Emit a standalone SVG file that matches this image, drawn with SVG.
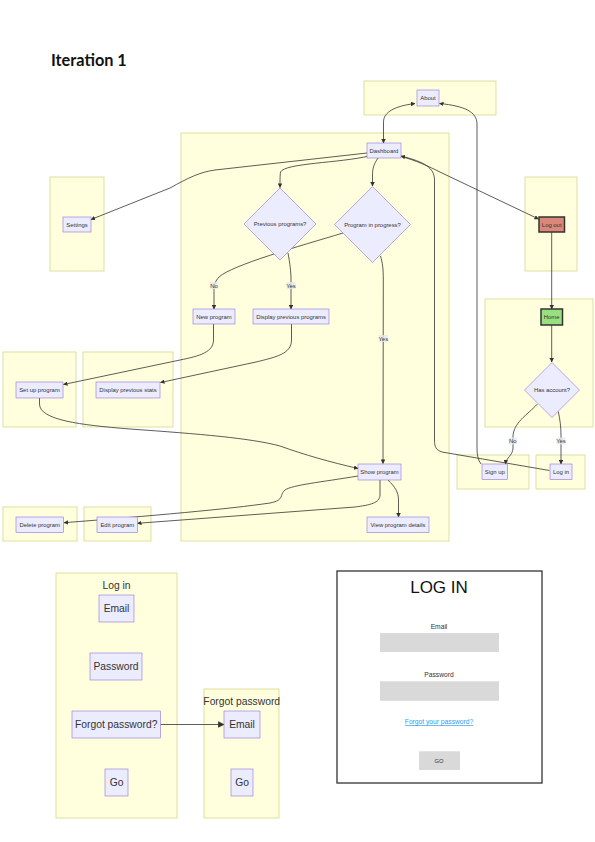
<svg xmlns="http://www.w3.org/2000/svg" width="595" height="842" viewBox="0 0 595 842">
<defs>
<style>
.cl{fill:#ffffde;stroke:#d6d68e;stroke-width:0.8}
.nd{fill:#ECECFF;stroke:#9370DB;stroke-width:0.6}
.t{font-family:"Liberation Sans",Arial,sans-serif;font-size:5.9px;fill:#333;text-anchor:middle}
.T{font-family:"Liberation Sans",Arial,sans-serif;font-size:10.3px;fill:#333;text-anchor:middle}
.e{fill:none;stroke:#333;stroke-width:0.8}
.lb{fill:#e8e8e8;opacity:0.8}
.fld{fill:#d9d9d9}
.m{font-family:"Liberation Sans",Arial,sans-serif;font-size:6.7px;fill:#333;text-anchor:middle}
</style>
<marker id="ah" viewBox="0 0 10 10" refX="9" refY="5" markerWidth="4.5" markerHeight="4.5" markerUnits="userSpaceOnUse" orient="auto-start-reverse"><path d="M0,0 L10,5 L0,10 z" fill="#333"/></marker>
<marker id="ah2" viewBox="0 0 10 10" refX="9" refY="5" markerWidth="6.5" markerHeight="6.5" markerUnits="userSpaceOnUse" orient="auto"><path d="M0,0 L10,5 L0,10 z" fill="#333"/></marker>
</defs>
<rect width="595" height="842" fill="#fff"/>
<text x="51" y="66" font-family="Lato,'Liberation Sans',sans-serif" font-weight="bold" font-size="16.3" fill="#111">Iteration 1</text>

<g id="clusters">
<rect class="cl" x="364" y="81" width="132" height="34"/>
<rect class="cl" x="181" y="133" width="268" height="408"/>
<rect class="cl" x="50" y="177" width="54" height="94"/>
<rect class="cl" x="3" y="352" width="73" height="75"/>
<rect class="cl" x="83" y="352" width="90" height="75"/>
<rect class="cl" x="525" y="177" width="52" height="94"/>
<rect class="cl" x="485" y="299" width="108" height="128"/>
<rect class="cl" x="457" y="455" width="72" height="34"/>
<rect class="cl" x="536" y="455" width="49" height="34"/>
<rect class="cl" x="3" y="507" width="74" height="34"/>
<rect class="cl" x="84" y="507" width="67" height="34"/>
</g>
<g id="login-cluster"><rect class="cl" x="56" y="573" width="121" height="245"/><text class="T" x="116.5" y="589">Log in</text></g>
<g id="forgot-cluster"><rect class="cl" x="204" y="689" width="75" height="129"/><text class="T" x="241.7" y="705">Forgot password</text></g>

<g id="connectors">
<path class="e" d="M383.5,143 L383.5,122 C383.5,112 395,106 415,103.5" marker-start="url(#ah)" marker-end="url(#ah)"/>
<path class="e" d="M481,464 C478,460 477,455 477,448 L477,124 C477,112 465,106 439.5,103.5" marker-end="url(#ah)"/>
<path class="e" d="M549.5,470.5 L442,452 C436,450 434.5,447 434.5,440 L434.5,180 C434.5,168 425,162 401,156" marker-end="url(#ah)"/>
<path class="e" d="M401,156.5 C415,160 428,166 442,173 L538.5,219" marker-end="url(#ah)"/>
<path class="e" d="M367,153 L215,170 C200,172 188,178 170,188 L91,219.5" marker-end="url(#ah)"/>
<path class="e" d="M369,156 C340,163 285,163 280.5,172 C280,176 280,180 280,187.5" marker-end="url(#ah)"/>
<path class="e" d="M378,158 C374,164 372.5,168 372.5,175 L372.5,186" marker-end="url(#ah)"/>
<path class="e" d="M343,233 C300,246 232,265 219,277 C214,282 214,288 214,292 L214,309" marker-end="url(#ah)"/>
<path class="e" d="M288,253 C290,264 291,272 291,280 L291,309" marker-end="url(#ah)"/>
<path class="e" d="M380.5,256 C382.5,263 383.3,268 383.3,280 L383,463.5" marker-end="url(#ah)"/>
<path class="e" d="M213.5,324 L213.5,340 C213.5,352 200,356 180,360 L63.5,384.5" marker-end="url(#ah)"/>
<path class="e" d="M291.5,324 L291.5,340 C291.5,354 276,357 256,362 L160.5,382.5" marker-end="url(#ah)"/>
<path class="e" d="M39.5,398 L39.5,404 C39.5,420 80,425 130,429 C200,434 250,438 280,446 C305,455 330,462 358,468.5" marker-end="url(#ah)"/>
<path class="e" d="M358,476 C322,482 292,485 285,490 C279,495 285,500 270,503 C230,509 150,516 64,522.7" marker-end="url(#ah)"/>
<path class="e" d="M380,480 L380,495 C380,503 370,505 355,507 L137.5,523.3" marker-end="url(#ah)"/>
<path class="e" d="M388,480 C395,487 398.5,492 398.5,500 L398.5,517" marker-end="url(#ah)"/>
<path class="e" d="M551.7,232 L551.7,309" marker-end="url(#ah)"/>
<path class="e" d="M551.7,325 L551.7,362" marker-end="url(#ah)"/>
<path class="e" d="M537.5,404 C527,415 513,423 513,437 L513,448 C513,455 506,458 505.5,464" marker-end="url(#ah)"/>
<path class="e" d="M558.3,411.5 C560,420 561,426 561,436 L561,464" marker-end="url(#ah)"/>
<path class="e" d="M160.5,724.5 L224,724.5" marker-end="url(#ah2)" stroke-width="1.1"/>
<rect class="lb" x="210" y="282" width="8" height="7"/>
<text class="t" x="214" y="287.7">No</text>
<rect class="lb" x="286.5" y="282" width="9" height="7"/>
<text class="t" x="291" y="287.7">Yes</text>
<rect class="lb" x="378.8" y="335" width="9" height="7"/>
<text class="t" x="383.3" y="340.5">Yes</text>
<rect class="lb" x="508.7" y="437.5" width="8" height="7"/>
<text class="t" x="512.7" y="443.2">No</text>
<rect class="lb" x="556.5" y="437.5" width="9" height="7"/>
<text class="t" x="561" y="443.2">Yes</text>
</g>

<g id="about"><rect class="nd" x="417" y="90" width="22" height="16"/><text class="t" x="428" y="100">About</text></g>
<g id="dashboard"><rect class="nd" x="367" y="143" width="34" height="15"/><text class="t" x="384" y="152.7">Dashboard</text></g>
<g id="prevprograms"><polygon class="nd" points="280,188 316,224 280,260 244,224"/><text class="t" x="280" y="226">Previous programs?</text></g>
<g id="inprogress"><polygon class="nd" points="372.5,186.5 410.5,224.5 372.5,262.5 334.5,224.5"/><text class="t" x="372.5" y="226.5">Program in progress?</text></g>
<g id="settings"><rect class="nd" x="63" y="217" width="28" height="15"/><text class="t" x="77" y="226.5">Settings</text></g>
<g id="newprogram"><rect class="nd" x="193" y="309" width="42" height="15"/><text class="t" x="214" y="318.7">New program</text></g>
<g id="dispprevprograms"><rect class="nd" x="253" y="309" width="76" height="15"/><text class="t" x="291" y="318.7">Display previous programs</text></g>
<g id="setupprogram"><rect class="nd" x="16" y="382" width="47" height="16"/><text class="t" x="39.5" y="392">Set up program</text></g>
<g id="dispprevstats"><rect class="nd" x="96" y="382" width="64" height="16"/><text class="t" x="128" y="392">Display previous stats</text></g>
<g id="logout"><rect x="539" y="217" width="25.5" height="15" fill="#DA887A" stroke="#333" stroke-width="1.5"/><text class="t" x="551.7" y="226.5">Log out</text></g>
<g id="home"><rect x="541" y="309" width="21.5" height="16" fill="#98E07F" stroke="#333" stroke-width="1.5"/><text class="t" x="551.7" y="319">Home</text></g>
<g id="hasaccount"><polygon class="nd" points="552,362.5 579.5,390 552,417.5 524.5,390"/><text class="t" x="552" y="392">Has account?</text></g>
<g id="signup"><rect class="nd" x="482" y="464" width="25.5" height="15.5"/><text class="t" x="494.7" y="473.8">Sign up</text></g>
<g id="login"><rect class="nd" x="550" y="464" width="22" height="15.5"/><text class="t" x="561" y="473.8">Log in</text></g>
<g id="showprogram"><rect class="nd" x="358" y="464" width="43" height="16"/><text class="t" x="379.5" y="474">Show program</text></g>
<g id="viewdetails"><rect class="nd" x="367" y="517" width="62" height="15.5"/><text class="t" x="398" y="526.7">View program details</text></g>
<g id="deleteprogram"><rect class="nd" x="16" y="517" width="47.5" height="15.5"/><text class="t" x="39.7" y="526.7">Delete program</text></g>
<g id="editprogram"><rect class="nd" x="97" y="517" width="40.5" height="15.5"/><text class="t" x="117.3" y="526.7">Edit program</text></g>

<g id="li-email"><rect class="nd" x="99" y="595" width="35" height="27"/><text class="T" x="116.5" y="612.2">Email</text></g>
<g id="li-password"><rect class="nd" x="90" y="653" width="52" height="27"/><text class="T" x="116" y="670.2">Password</text></g>
<g id="li-forgot"><rect class="nd" x="72" y="711" width="88.5" height="27"/><text class="T" x="116.2" y="728">Forgot password?</text></g>
<g id="li-go"><rect class="nd" x="105" y="769" width="23" height="27"/><text class="T" x="116.5" y="786.2">Go</text></g>
<g id="fp-email"><rect class="nd" x="224" y="711" width="36" height="27"/><text class="T" x="242" y="728">Email</text></g>
<g id="fp-go"><rect class="nd" x="231" y="769" width="22" height="27"/><text class="T" x="242" y="786.2">Go</text></g>

<g id="mockup">
<rect x="337" y="571" width="205" height="212" fill="#fff" stroke="#333" stroke-width="1.3"/>
<text x="439" y="592.5" font-family="'Liberation Sans',Arial,sans-serif" font-size="17" fill="#111" text-anchor="middle">LOG IN</text>
<text class="m" x="439" y="628.5">Email</text>
<rect class="fld" x="380" y="633" width="119" height="19"/>
<text class="m" x="439" y="676.5">Password</text>
<rect class="fld" x="380" y="681.3" width="119" height="19.5"/>
<text class="m" x="439" y="724.3" fill="#2a9df4" style="fill:#2a9df4" text-decoration="underline">Forgot your password?</text>
<rect class="fld" x="419" y="751.3" width="41" height="18.7"/>
<text x="439" y="762.8" font-family="'Liberation Sans',Arial,sans-serif" font-size="5.8" fill="#333" text-anchor="middle">GO</text>
</g>
</svg>
